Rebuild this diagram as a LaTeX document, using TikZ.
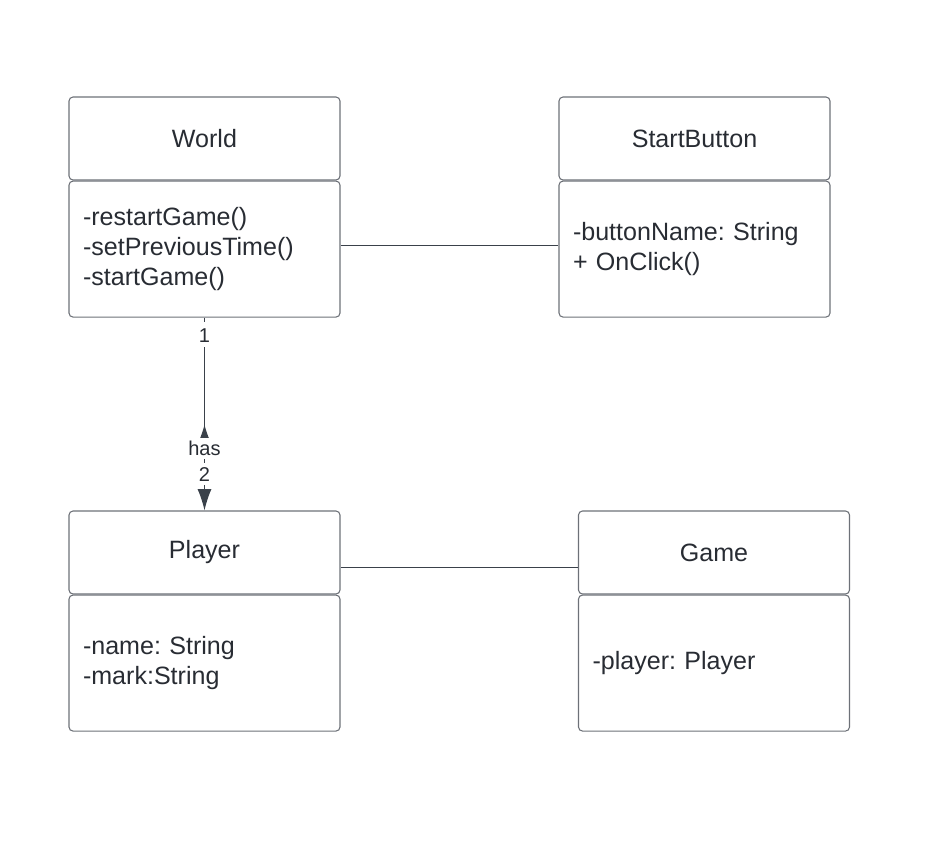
\documentclass[tikz,border=0pt]{standalone}
\usepackage{fontspec}
\setmainfont{Liberation Sans}
\usetikzlibrary{positioning,arrows.meta,decorations.markings}

\definecolor{boxline}{HTML}{6D7178}
\definecolor{linkline}{HTML}{3A414A}
\definecolor{textcol}{HTML}{282C33}
\frenchspacing

\begin{document}
\begin{tikzpicture}[x=0.75pt, y=-0.75pt,
    head/.style = {draw=boxline, line width=0.8pt, rounded corners=3pt,
        minimum width=271*0.75pt, minimum height=83*0.75pt, inner sep=0pt,
        text=textcol, font=\fontsize{18.8}{22.5}\selectfont},
    body/.style = {draw=boxline, line width=0.8pt, rounded corners=3pt,
        minimum width=271*0.75pt, minimum height=136*0.75pt,
        text width=243*0.75pt, inner xsep=14*0.75pt, inner ysep=0pt,
        align=left, text=textcol, font=\fontsize{18.8}{22.7}\selectfont},
    link/.style = {draw=linkline, line width=0.8pt},
    mult/.style = {fill=white, inner xsep=1pt, inner ysep=4pt, text height=10.8pt, text depth=0pt,
        text=textcol, font=\fontsize{15}{18}\selectfont}
]
    \useasboundingbox (0,0) rectangle (940,868);

    % Klassen oben
    \node[head] (World) at (204.5,138.5) {World};
    \node[body, below=0pt of World] (WorldBody) {-restartGame()\\-setPreviousTime()\\-startGame()};

    \node[head] (StartButton) at (694.5,138.5) {StartButton};
    \node[body, below=0pt of StartButton] (StartBody) {-buttonName: String\\+ OnClick()};

    % Klassen unten
    \node[head] (Player) at (204.5,552.5) {Player};
    \node[body, below=0pt of Player] (PlayerBody) {-name: String\\-mark:String};

    \node[head] (Game) at (714,552.5) {Game};
    \node[body, below=0pt of Game] (GameBody) {-player: Player};

    % Verbindungen
    \draw[link] ([yshift=3pt]WorldBody.east) -- ([yshift=3pt]WorldBody.east -| StartBody.west);
    \draw[link] ([yshift=-11.5pt]Player.east) -- ([yshift=-11.5pt]Player.east -| Game.west);

    % Assoziation "has"
    \draw[link, -{Latex[length=16pt, width=10.5pt]},
        postaction={decorate},
        decoration={markings, mark=at position 0.555 with {\arrowreversed{Latex[length=16pt, width=12pt]}}}]
        (WorldBody.south) -- (Player.north)
        node[mult, pos=0.09] (one) {1}
        node[mult, pos=0.68, inner ysep=2.5pt] (has) {has}
        node[mult, pos=0.81, inner ysep=3pt] (two) {2};
\end{tikzpicture}
\end{document}
